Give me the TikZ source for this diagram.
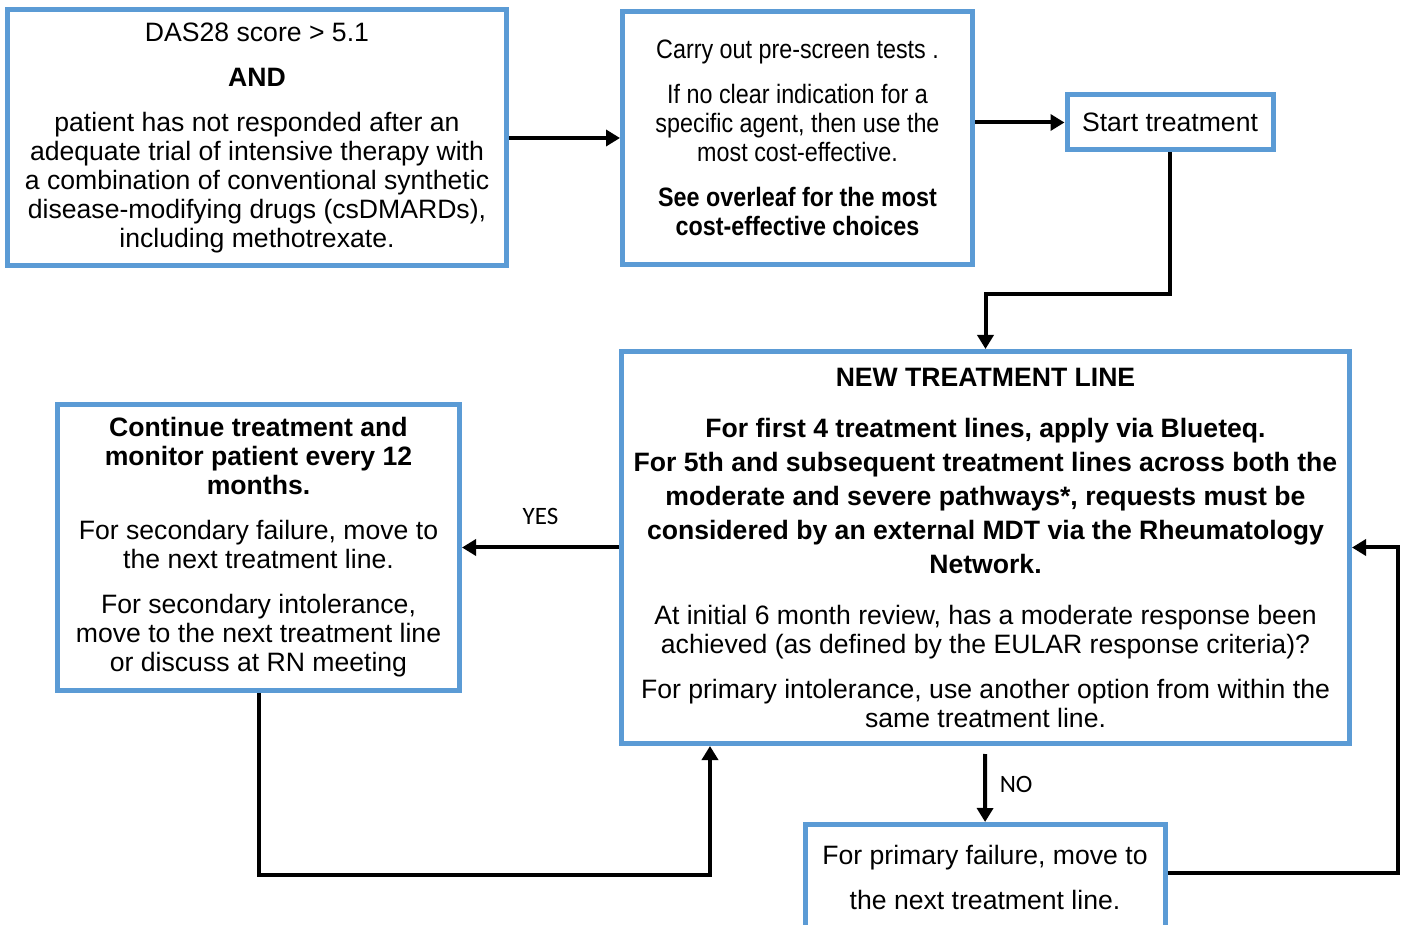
\documentclass[tikz,border=0pt]{standalone}
\usepackage{fontspec}
\setmainfont{Liberation Sans}
\newfontfamily\narrowfont[FakeStretch=0.877]{Liberation Sans}
\newfontfamily\answerfont{Carlito}
\usetikzlibrary{positioning,arrows.meta}
\definecolor{boxblue}{HTML}{5B9BD5}
\tikzset{
  flowbox/.style={draw=boxblue, line width=2.5pt, fill=white, align=center, inner sep=0pt,
    font=\fontsize{13.3}{14.5}\selectfont},
  flowarrow/.style={line width=2pt, -{Triangle[length=7pt,width=8pt]}},
  answer/.style={font=\answerfont\fontsize{12.5}{14}\selectfont}
}

\begin{document}
\begin{tikzpicture}[x=0.5pt,y=-0.5pt]
\useasboundingbox (0,0) rectangle (1405,925);

\node[flowbox, minimum width=249.5pt, minimum height=128pt] (das) at (257,138)
  {DAS28 score > 5.1\\[8pt]
   \textbf{AND}\\[8pt]
   patient has not responded after an\\
   adequate trial of intensive therapy with\\
   a combination of conventional synthetic\\
   disease-modifying drugs (csDMARDs),\\
   including methotrexate.};

\node[flowbox, minimum width=175pt, minimum height=126.5pt] (prescreen) at (797.5,138)
  {\narrowfont Carry out pre-screen tests .\\[8pt]
   \narrowfont If no clear indication for a\\
   \narrowfont specific agent, then use the\\
   \narrowfont most cost-effective.\\[8pt]
   \narrowfont\bfseries See overleaf for the most\\
   \narrowfont\bfseries cost-effective choices};

\node[flowbox, minimum width=103pt, minimum height=27.5pt] (start) at (1170,122.5)
  {Start treatment};

\node[flowbox, minimum width=364pt, minimum height=196pt] (newline) at (985.5,547.5)
  {\bfseries NEW TREATMENT LINE\\[11pt]
   \bfseries For first 4 treatment lines, apply via Blueteq.\\[2.5pt]
   \bfseries For 5th and subsequent treatment lines across both the\\[2.5pt]
   \bfseries moderate and severe pathways*, requests must be\\[2.5pt]
   \bfseries considered by an external MDT via the Rheumatology\\[2.5pt]
   \bfseries Network.\\[11pt]
   At initial 6 month review, has a moderate response been\\
   achieved (as defined by the EULAR response criteria)?\\[8pt]
   For primary intolerance, use another option from within the\\
   same treatment line.};

\node[flowbox, minimum width=201pt, minimum height=143pt] (continue) at (258.5,547.5)
  {\bfseries Continue treatment and\\
   \bfseries monitor patient every 12\\
   \bfseries months.\\[8pt]
   For secondary failure, move to\\
   the next treatment line.\\[8pt]
   For secondary intolerance,\\
   move to the next treatment line\\
   or discuss at RN meeting};

\node[flowbox, minimum width=180pt, minimum height=53pt, anchor=north] (failure) at (985,822)
  {For primary failure, move to\\[8pt]
   the next treatment line.};

\coordinate (turn1) at (985.5,294);
\coordinate (turn2) at (710,875);
\coordinate (turn3) at (1398,873);

\draw[flowarrow] (das) -- (prescreen);
\draw[flowarrow] (prescreen.east |- start) -- (start);
\draw[flowarrow] (start.south) |- (turn1) -- (newline.north);
\draw[flowarrow] (newline) -- node[answer, above=7pt] (yes) {YES} (continue);
\draw[flowarrow] (continue.south) |- (turn2) -- (turn2 |- newline.south);
\draw[flowarrow, shorten <=4pt] (newline) -- node[answer, right=3pt] (no) {NO} (failure);
\draw[flowarrow] (failure.east |- turn3) -- (turn3) |- (newline.east);

\end{tikzpicture}
\end{document}
